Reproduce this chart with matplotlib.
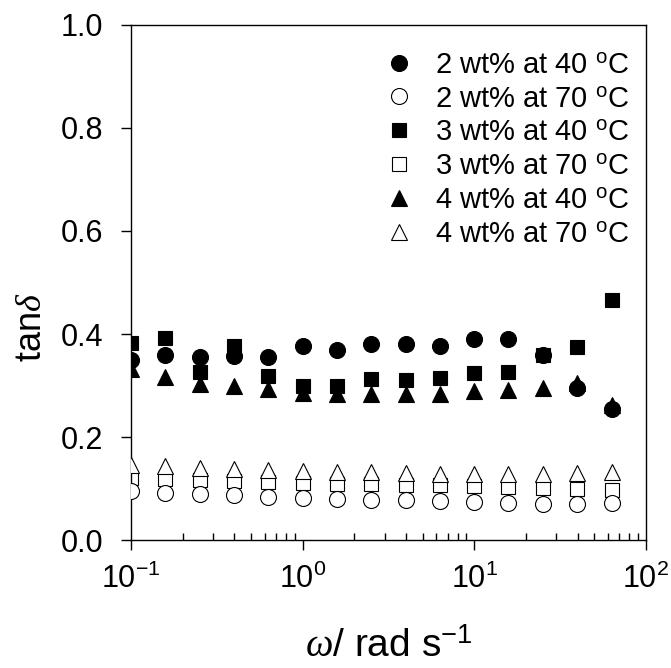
import matplotlib
matplotlib.use("Agg")
import matplotlib.pyplot as plt
from matplotlib.ticker import LogLocator, NullFormatter, FixedLocator

plt.rcParams['font.family'] = ['Liberation Sans', 'DejaVu Sans']
plt.rcParams['mathtext.fontset'] = 'custom'
plt.rcParams['mathtext.rm'] = 'Liberation Sans'
plt.rcParams['mathtext.it'] = 'Liberation Serif:italic'
plt.rcParams['mathtext.bf'] = 'Liberation Sans:bold'

# Frequenz in rad/s
omega = [0.1, 0.158, 0.251, 0.398, 0.631, 1.0, 1.58, 2.51, 3.98, 6.31,
         10.0, 15.8, 25.1, 39.8, 63.1]

# tan delta
wt2_40 = [0.350, 0.359, 0.355, 0.358, 0.356, 0.376, 0.369, 0.380, 0.380, 0.377,
          0.390, 0.391, 0.359, 0.295, 0.255]
wt2_70 = [0.096, 0.092, 0.089, 0.087, 0.083, 0.082, 0.080, 0.078, 0.077, 0.075,
          0.073, 0.071, 0.070, 0.070, 0.072]
wt3_40 = [0.382, 0.393, 0.326, 0.377, 0.318, 0.300, 0.300, 0.313, 0.311, 0.314,
          0.324, 0.326, 0.360, 0.375, 0.466]
wt3_70 = [0.120, 0.119, 0.116, 0.114, 0.113, 0.111, 0.109, 0.109, 0.107, 0.106,
          0.104, 0.102, 0.101, 0.100, 0.097]
wt4_40 = [0.333, 0.316, 0.303, 0.300, 0.294, 0.285, 0.284, 0.284, 0.284, 0.284,
          0.289, 0.292, 0.296, 0.305, 0.262]
wt4_70 = [0.145, 0.144, 0.140, 0.138, 0.136, 0.134, 0.133, 0.133, 0.131, 0.129,
          0.128, 0.128, 0.128, 0.131, 0.133]

labels = ['2 wt% at 40 $^{\\mathrm{o}}$C', '2 wt% at 70 $^{\\mathrm{o}}$C',
          '3 wt% at 40 $^{\\mathrm{o}}$C', '3 wt% at 70 $^{\\mathrm{o}}$C',
          '4 wt% at 40 $^{\\mathrm{o}}$C', '4 wt% at 70 $^{\\mathrm{o}}$C']

fig = plt.figure(figsize=(6.71, 6.68), dpi=100, facecolor="white")
ax = fig.add_axes([0.1952, 0.1916, 0.7675, 0.7710])

ew = 0.8
ax.plot(omega, wt2_40, 'o', ms=11.5, mfc='black', mec='black', mew=ew, label=labels[0], zorder=3)
ax.plot(omega, wt2_70, 'o', ms=11.5, mfc='white', mec='black', mew=ew, label=labels[1], zorder=3)
ax.plot(omega, wt3_40, 's', ms=10.5, mfc='black', mec='black', mew=ew, label=labels[2], zorder=2)
ax.plot(omega, wt3_70, 's', ms=10.5, mfc='white', mec='black', mew=ew, label=labels[3], zorder=2)
ax.plot(omega, wt4_40, '^', ms=12, mfc='black', mec='black', mew=ew, label=labels[4], zorder=3)
ax.plot(omega, wt4_70, '^', ms=12, mfc='white', mec='black', mew=ew, label=labels[5], zorder=3)

ax.set_xscale('log')
ax.set_xlim(0.1, 100)
ax.set_ylim(0.0, 1.0)
ax.yaxis.set_major_locator(FixedLocator([0.0, 0.2, 0.4, 0.6, 0.8, 1.0]))
ax.set_yticklabels(['0.0', '0.2', '0.4', '0.6', '0.8', '1.0'])
ax.xaxis.set_major_locator(LogLocator(base=10, numticks=10))
ax.xaxis.set_minor_locator(LogLocator(base=10, subs=range(2, 10), numticks=10))
ax.xaxis.set_minor_formatter(NullFormatter())

ax.tick_params(axis='both', which='major', direction='out', length=7, width=1,
               labelsize=22, pad=10)
ax.tick_params(axis='y', which='major', pad=13)
ax.tick_params(axis='x', which='minor', direction='in', length=5, width=1)
for s in ax.spines.values():
    s.set_linewidth(1)

ax.set_xlabel('$\\omega$/ rad s$^{-1}$', fontsize=28, labelpad=24)
ax.set_ylabel('tan$\\delta$', fontsize=26)
ax.yaxis.set_label_coords(-0.16, 0.414)

ax.legend(loc='upper right', bbox_to_anchor=(1.0, 0.981), frameon=False, fontsize=21,
          handlelength=1.0, handletextpad=0.75, labelspacing=0.2, borderaxespad=0.15)

fig.savefig('out.png', dpi=100)
